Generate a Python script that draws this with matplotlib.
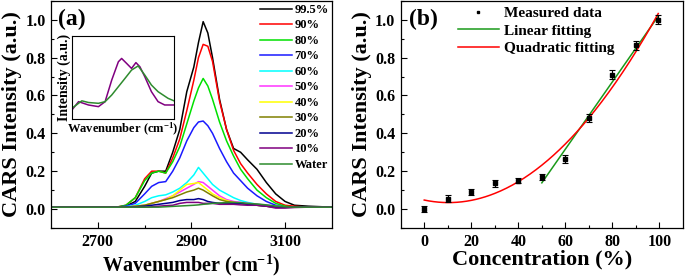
import numpy as np
import matplotlib
matplotlib.use("Agg")
import matplotlib.pyplot as plt
from matplotlib.lines import Line2D

plt.rcParams["font.family"] = ["Liberation Serif", "DejaVu Serif"]
plt.rcParams["font.weight"] = "bold"
plt.rcParams["axes.labelweight"] = "bold"
plt.rcParams["mathtext.fontset"] = "custom"
plt.rcParams["mathtext.rm"] = "Liberation Serif:bold"
plt.rcParams["mathtext.it"] = "Liberation Serif:bold"
plt.rcParams["mathtext.bf"] = "Liberation Serif:bold"

# ---- panel (a): CARS spectra ----
wn = [2600, 2650, 2700, 2740, 2760, 2780, 2800, 2815, 2830, 2845, 2860, 2875, 2890, 2905, 2915,
      2925, 2935, 2945, 2960, 2975, 2990, 3005, 3020, 3040, 3060, 3080, 3100, 3120, 3150, 3200]

s995 = [0.01, 0.01, 0.01, 0.01, 0.015, 0.04, 0.12, 0.19, 0.20, 0.20, 0.30, 0.42, 0.62, 0.75, 0.88,
        0.99, 0.93, 0.80, 0.58, 0.42, 0.32, 0.30, 0.26, 0.21, 0.14, 0.08, 0.04, 0.02, 0.015, 0.01]
s90 = [0.01, 0.01, 0.01, 0.01, 0.02, 0.06, 0.16, 0.20, 0.20, 0.19, 0.27, 0.37, 0.52, 0.68, 0.80,
       0.87, 0.86, 0.78, 0.57, 0.42, 0.31, 0.24, 0.19, 0.13, 0.08, 0.04, 0.02, 0.015, 0.01, 0.01]
s80 = [0.01, 0.01, 0.01, 0.01, 0.02, 0.06, 0.15, 0.19, 0.20, 0.19, 0.25, 0.33, 0.45, 0.57, 0.64,
       0.69, 0.65, 0.58, 0.46, 0.36, 0.28, 0.21, 0.16, 0.10, 0.06, 0.03, 0.015, 0.01, 0.01, 0.01]
s70 = [0.01, 0.01, 0.01, 0.01, 0.015, 0.03, 0.08, 0.12, 0.14, 0.145, 0.20, 0.27, 0.36, 0.43, 0.46,
       0.465, 0.44, 0.40, 0.32, 0.25, 0.19, 0.15, 0.11, 0.07, 0.04, 0.02, 0.01, 0.01, 0.01, 0.01]
s60 = [0.01, 0.01, 0.01, 0.01, 0.012, 0.02, 0.04, 0.06, 0.07, 0.075, 0.09, 0.11, 0.14, 0.18, 0.22,
       0.19, 0.16, 0.13, 0.10, 0.08, 0.06, 0.045, 0.035, 0.025, 0.02, 0.015, 0.01, 0.01, 0.01, 0.01]
s50 = [0.01, 0.01, 0.01, 0.01, 0.01, 0.015, 0.02, 0.03, 0.04, 0.055, 0.07, 0.09, 0.11, 0.13, 0.145,
       0.14, 0.12, 0.10, 0.07, 0.05, 0.04, 0.035, 0.03, 0.025, 0.02, 0.015, 0.01, 0.01, 0.01, 0.01]
s40 = [0.01, 0.01, 0.01, 0.01, 0.01, 0.015, 0.02, 0.03, 0.04, 0.05, 0.07, 0.10, 0.13, 0.135, 0.14,
       0.12, 0.10, 0.08, 0.06, 0.045, 0.035, 0.03, 0.025, 0.02, 0.015, 0.01, 0.01, 0.01, 0.01, 0.01]
s30 = [0.01, 0.01, 0.01, 0.01, 0.01, 0.015, 0.02, 0.03, 0.04, 0.05, 0.06, 0.075, 0.09, 0.10, 0.11,
       0.10, 0.085, 0.07, 0.05, 0.04, 0.035, 0.03, 0.025, 0.02, 0.015, 0.01, 0.01, 0.01, 0.01, 0.01]
s20 = [0.01, 0.01, 0.01, 0.01, 0.01, 0.012, 0.015, 0.02, 0.025, 0.03, 0.035, 0.045, 0.05, 0.05, 0.055,
       0.05, 0.04, 0.035, 0.03, 0.03, 0.03, 0.03, 0.025, 0.02, 0.015, 0.01, 0.01, 0.01, 0.01, 0.01]
s10 = [0.01, 0.01, 0.01, 0.01, 0.01, 0.01, 0.01, 0.012, 0.015, 0.018, 0.02, 0.03, 0.035, 0.035, 0.035,
       0.03, 0.03, 0.03, 0.025, 0.025, 0.025, 0.022, 0.02, 0.02, 0.015, 0.005, 0.005, 0.008, 0.01, 0.01]
water = [0.01, 0.01, 0.01, 0.01, 0.01, 0.01, 0.01, 0.01, 0.01, 0.012, 0.014, 0.016, 0.018, 0.02, 0.022,
         0.025, 0.027, 0.03, 0.032, 0.034, 0.035, 0.034, 0.03, 0.027, 0.022, 0.016, 0.012, 0.01, 0.01, 0.01]

spectra = [s995, s90, s80, s70, s60, s50, s40, s30, s20, s10, water]
labels = ["99.5%", "90%", "80%", "70%", "60%", "50%", "40%", "30%", "20%", "10%", "Water"]
colors = ["#000000", "#ff0000", "#00e000", "#1a1aff", "#00ffff", "#ff33ff",
          "#ffff00", "#808000", "#000090", "#800080", "#2e8b2e"]

# inset (normalised spectra, no ticks)
ins_x_p = [0, 0.065, 0.162, 0.26, 0.325, 0.39, 0.455, 0.487, 0.536, 0.584, 0.627, 0.666, 0.714,
           0.779, 0.844, 0.909, 1.0]
ins_y_p = [0.11, 0.21, 0.17, 0.15, 0.21, 0.47, 0.69, 0.73, 0.67, 0.61, 0.68, 0.63, 0.51,
           0.33, 0.21, 0.17, 0.17]
ins_x_g = [0, 0.097, 0.162, 0.26, 0.325, 0.39, 0.455, 0.52, 0.584, 0.649, 0.714, 0.779, 0.844, 0.942, 1.0]
ins_y_g = [0.13, 0.22, 0.20, 0.19, 0.21, 0.29, 0.39, 0.49, 0.59, 0.64, 0.53, 0.41, 0.33, 0.25, 0.22]

# ---- panel (b): concentration ----
conc = [0, 10, 20, 30, 40, 50, 60, 70, 80, 90, 99.5]
inten = [0.0, 0.055, 0.09, 0.135, 0.15, 0.17, 0.265, 0.48, 0.71, 0.865, 1.0]
err = [0.015, 0.02, 0.015, 0.02, 0.015, 0.015, 0.02, 0.02, 0.025, 0.025, 0.025]

fig = plt.figure(figsize=(6.85, 2.77), dpi=100)
ax1 = fig.add_axes([0.0745, 0.177, 0.410, 0.82])
ax2 = fig.add_axes([0.585, 0.177, 0.412, 0.82])


def style(ax):
    ax.tick_params(direction="in", which="both", labelsize=11.5, width=0.8, pad=4)
    ax.tick_params(which="major", length=4)
    ax.tick_params(which="minor", length=2.5)
    for lab in ax.get_xticklabels() + ax.get_yticklabels():
        lab.set_fontweight("bold")
    for sp in ax.spines.values():
        sp.set_linewidth(0.9)


for y, lab, c in zip(spectra, labels, colors):
    ax1.plot(wn, y, color=c, lw=1.1, label=lab)
ax1.set_xlim(2600, 3200)
ax1.set_ylim(-0.1, 1.1)
ax1.set_xticks([2700, 2900, 3100])
ax1.set_xticks([2800, 3000], minor=True)
ax1.set_yticks([0.0, 0.2, 0.4, 0.6, 0.8, 1.0])
ax1.set_yticks(np.arange(-0.1, 1.11, 0.1), minor=True)
ax1.set_xlabel("Wavenumber (cm$^{-1}$)", fontsize=14.5, labelpad=2)
ax1.set_ylabel("CARS Intensity (a.u.)", fontsize=16, labelpad=2)
style(ax1)
ax1.text(0.025, 0.965, "(a)", transform=ax1.transAxes, fontsize=17, fontweight="bold", va="top")
ax1.legend(loc="upper right", bbox_to_anchor=(1.0, 1.0), frameon=False,
           handlelength=2.6, handletextpad=0.2, labelspacing=0.28, borderpad=0.1,
           borderaxespad=0.15, prop={"weight": "bold", "size": 9})

ins = fig.add_axes([0.105, 0.570, 0.149, 0.300])
ins.plot(ins_x_p, ins_y_p, color="#800080", lw=1.1)
ins.plot(ins_x_g, ins_y_g, color="#2e8b2e", lw=1.1)
ins.set_xlim(0, 1)
ins.set_ylim(0, 1)
ins.set_xticks([])
ins.set_yticks([])
ins.set_xlabel("Wavenumber (cm$^{-1}$)", fontsize=9, labelpad=1)
ins.set_ylabel("Intensity (a.u.)", fontsize=10, labelpad=1)

# fits
lin_x = [c for c in conc if c >= 50]
lin_y = [v for c, v in zip(conc, inten) if c >= 50]
pl = np.polyfit(lin_x, lin_y, 1)
pq = np.polyfit(conc, inten, 2)
xl = np.linspace(50, 99.5, 50)
xq = np.linspace(0, 99.5, 200)

ax2.errorbar(conc, inten, yerr=err, fmt="s", ms=2.5, color="black", ecolor="black",
             elinewidth=0.8, capsize=2, capthick=0.8, zorder=3)
l_lin, = ax2.plot(xl, np.polyval(pl, xl), color="#1a9a1a", lw=1.1)
l_quad, = ax2.plot(xq, np.polyval(pq, xq), color="#ff0000", lw=1.1)
ax2.set_xlim(-10, 110)
ax2.set_ylim(-0.1, 1.1)
ax2.set_xticks([0, 20, 40, 60, 80, 100])
ax2.set_xticks([10, 30, 50, 70, 90], minor=True)
ax2.set_yticks([0.0, 0.2, 0.4, 0.6, 0.8, 1.0])
ax2.set_yticks(np.arange(-0.1, 1.11, 0.1), minor=True)
ax2.set_xlabel("Concentration (%)", fontsize=16, labelpad=0)
ax2.set_ylabel("CARS Intensity (a.u.)", fontsize=16, labelpad=2)
style(ax2)
ax2.text(0.03, 0.965, "(b)", transform=ax2.transAxes, fontsize=17, fontweight="bold", va="top")
meas = Line2D([], [], ls="none", marker="s", ms=2, color="black")
ax2.legend([meas, l_lin, l_quad], ["Measured data", "Linear fitting", "Quadratic fitting"],
           loc="upper left", bbox_to_anchor=(0.17, 1.015), frameon=False,
           handlelength=2.7, handletextpad=0.3, labelspacing=0.25, borderpad=0.1,
           prop={"weight": "bold", "size": 11})

fig.savefig("out.png", dpi=100)
